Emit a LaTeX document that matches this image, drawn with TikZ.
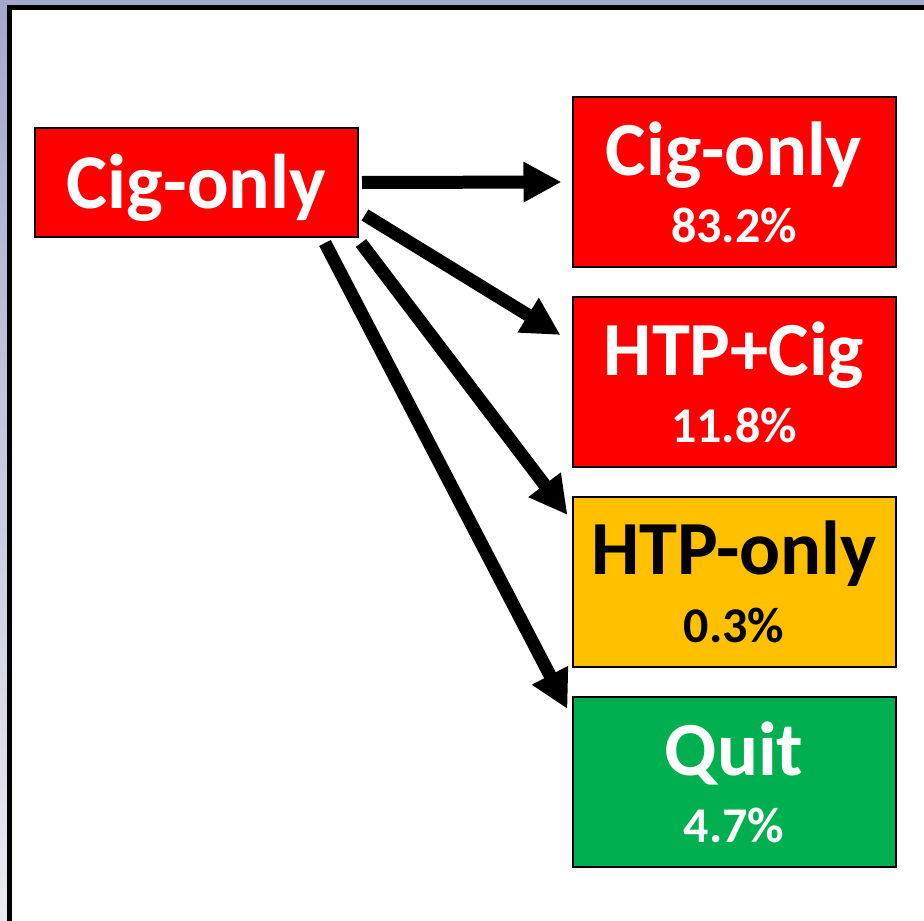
\documentclass[tikz,border=0pt]{standalone}
\usepackage{fontspec}
\setmainfont{Carlito}
\usetikzlibrary{arrows.meta,calc}

\definecolor{boxred}{RGB}{255,0,0}
\definecolor{boxgold}{RGB}{255,192,0}
\definecolor{boxgreen}{RGB}{0,176,80}
\definecolor{slidetop}{RGB}{164,168,204}
\definecolor{slidebot}{RGB}{234,234,238}

\tikzset{
  statebox/.style={draw=black, line width=2bp, minimum width=323bp, minimum height=170bp,
    inner sep=0pt, outer sep=0pt},
  srcbox/.style={draw=black, line width=2bp, fill=boxred, minimum width=323bp,
    minimum height=109bp, inner sep=0pt, outer sep=0pt},
  bigtext/.style={font=\fontsize{76.5bp}{78bp}\selectfont\bfseries, inner sep=0pt, anchor=base},
  pcttext/.style={font=\fontsize{50bp}{52bp}\selectfont\bfseries, inner sep=0pt, anchor=base},
  flow/.style={line width=13bp, -{Triangle[length=38bp,width=38bp]}},
}

\begin{document}
\begin{tikzpicture}[x=1bp, y=-1bp]
\useasboundingbox (0,0) rectangle (924,921);

% slide background around the framed panel
\shade[top color=slidetop, bottom color=slidebot] (0,0) rectangle (924,921);
\fill[slidetop] (0,0) rectangle (924,6);
\fill[white] (10,8) rectangle (924,921);
\draw[line width=5bp, line cap=butt] (9.5,921) -- (9.5,7.5) -- (924,7.5);

% starting state
\node[srcbox] (src) at (196.5,182.5) {};
\node[bigtext, text=white, font=\fontsize{77.5bp}{78bp}\selectfont\bfseries] (srclbl) at ($(src.north)+(0,80)$) {Cig-only};

% outcome states
\node[statebox, fill=boxred]   (t1) at (734,182) {};
\node[statebox, fill=boxred]   (t2) at (734,382) {};
\node[statebox, fill=boxgold]  (t3) at (734,582) {};
\node[statebox, fill=boxgreen] (t4) at (734,782) {};

\node[bigtext, text=white] (t1a) at ($(t1.north)+(0,78)$) {Cig-only};
\node[pcttext, text=white] (t1b) at ($(t1.north)+(0,145)$) {83.2\%};
\node[bigtext, text=white] (t2a) at ($(t2.north)+(0,78)$) {HTP+Cig};
\node[pcttext, text=white] (t2b) at ($(t2.north)+(0,145)$) {11.8\%};
\node[bigtext, text=black] (t3a) at ($(t3.north)+(0,77)$) {HTP-only};
\node[pcttext, text=black] (t3b) at ($(t3.north)+(0,145)$) {0.3\%};
\node[bigtext, text=white] (t4a) at ($(t4.north)+(0,78)$) {Quit};
\node[pcttext, text=white] (t4b) at ($(t4.north)+(0,145)$) {4.7\%};

% transitions
\draw[flow] ($(src.east)+(4,0)$) -- ($(t1.west)+(-11,0)$);
\draw[flow] ($(src.south east)+(7,-22)$) -- ($(t2.west)+(-12,-47)$);
\draw[flow] ($(src.south east)+(3,6)$) -- ($(t3.north west)+(-5,18)$);
\draw[flow] ($(src.south east)+(-33,6)$) -- ($(t4.north west)+(-5,12)$);
\end{tikzpicture}
\end{document}
